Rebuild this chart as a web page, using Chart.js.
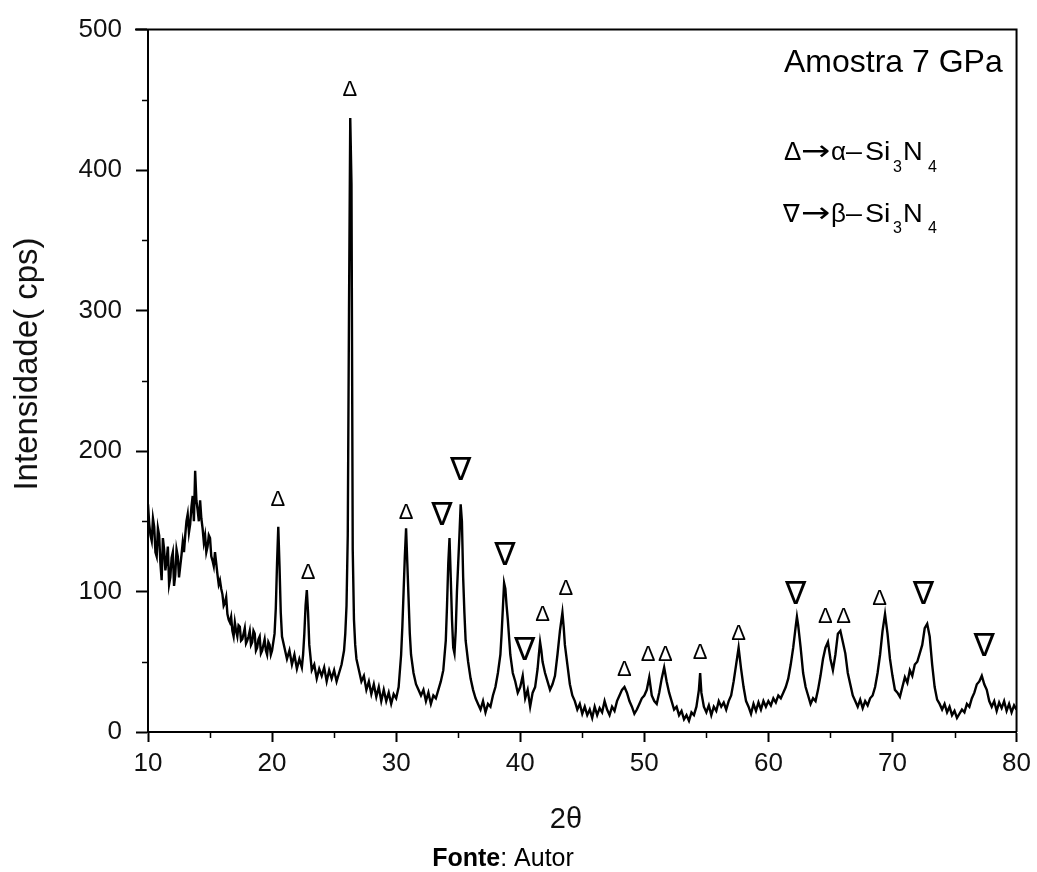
<!DOCTYPE html>
<html>
<head>
    <title>Amostra 7 GPa - DRX</title>
    <script src="https://cdn.jsdelivr.net/npm/chart.js"></script>
    <style>
        body { margin: 0; background: white; }
        #wrap { width: 1037px; height: 872px; }
    </style>
</head>
<body>
    <div id="wrap"><canvas id="xrdChart" width="1037" height="872"></canvas></div>

    <script>
        // 2-theta positions (deg) and intensities (cps)
        const twoTheta = [
            10.0, 10.1, 10.2, 10.3, 10.4, 10.5, 10.6, 10.7, 10.8, 10.9,
            11.0, 11.1, 11.2, 11.3, 11.4, 11.5, 11.6, 11.7, 11.8, 11.9,
            12.0, 12.1, 12.2, 12.3, 12.4, 12.5, 12.6, 12.7, 12.8, 12.9,
            13.0, 13.1, 13.2, 13.3, 13.4, 13.5, 13.6, 13.7, 13.8, 13.9,
            14.0, 14.1, 14.2, 14.3, 14.4, 14.5, 14.6, 14.7, 14.8, 14.9,
            15.0, 15.1, 15.2, 15.3, 15.4, 15.5, 15.6, 15.7, 15.8, 15.9,
            16.0, 16.1, 16.2, 16.3, 16.4, 16.5, 16.6, 16.7, 16.8, 16.9,
            17.0, 17.1, 17.2, 17.3, 17.4, 17.5, 17.6, 17.7, 17.8, 17.9,
            18.0, 18.1, 18.2, 18.3, 18.4, 18.5, 18.6, 18.7, 18.8, 18.9,
            19.0, 19.1, 19.2, 19.3, 19.4, 19.5, 19.6, 19.7, 19.8, 19.9,
            20.0, 20.2, 20.3, 20.4, 20.5, 20.6, 20.7, 20.8, 21.0, 21.2,
            21.4, 21.6, 21.8, 22.0, 22.2, 22.4, 22.5, 22.6, 22.7, 22.8,
            22.9, 23.0, 23.2, 23.4, 23.6, 23.8, 24.0, 24.2, 24.4, 24.6,
            24.8, 25.0, 25.2, 25.4, 25.6, 25.8, 25.9, 26.0, 26.1, 26.2,
            26.3, 26.4, 26.5, 26.6, 26.7, 26.8, 27.0, 27.2, 27.4, 27.6,
            27.8, 28.0, 28.2, 28.4, 28.6, 28.8, 29.0, 29.2, 29.4, 29.6,
            29.8, 30.0, 30.2, 30.4, 30.5, 30.6, 30.7, 30.8, 30.9, 31.0,
            31.1, 31.2, 31.4, 31.6, 31.8, 32.0, 32.2, 32.4, 32.6, 32.8,
            33.0, 33.2, 33.4, 33.6, 33.8, 34.0, 34.1, 34.2, 34.3, 34.4,
            34.5, 34.6, 34.7, 34.8, 34.9, 35.0, 35.1, 35.2, 35.3, 35.4,
            35.5, 35.6, 35.8, 36.0, 36.2, 36.4, 36.6, 36.8, 37.0, 37.2,
            37.4, 37.6, 37.8, 38.0, 38.2, 38.4, 38.5, 38.6, 38.7, 38.8,
            38.9, 39.0, 39.2, 39.4, 39.6, 39.8, 40.0, 40.2, 40.4, 40.6,
            40.8, 41.0, 41.2, 41.4, 41.5, 41.6, 41.7, 41.8, 42.0, 42.2,
            42.4, 42.6, 42.8, 43.0, 43.2, 43.4, 43.5, 43.6, 43.8, 44.0,
            44.2, 44.4, 44.6, 44.8, 45.0, 45.2, 45.4, 45.6, 45.8, 46.0,
            46.2, 46.4, 46.6, 46.8, 47.0, 47.2, 47.4, 47.6, 47.8, 48.0,
            48.2, 48.4, 48.6, 48.8, 49.0, 49.2, 49.4, 49.6, 49.8, 50.0,
            50.2, 50.4, 50.6, 50.8, 51.0, 51.2, 51.4, 51.6, 51.8, 52.0,
            52.2, 52.4, 52.6, 52.8, 53.0, 53.2, 53.4, 53.6, 53.8, 54.0,
            54.2, 54.4, 54.5, 54.6, 54.8, 55.0, 55.2, 55.4, 55.6, 55.8,
            56.0, 56.2, 56.4, 56.6, 56.8, 57.0, 57.2, 57.4, 57.6, 57.8,
            58.0, 58.2, 58.4, 58.6, 58.8, 59.0, 59.2, 59.4, 59.6, 59.8,
            60.0, 60.2, 60.4, 60.6, 60.8, 61.0, 61.2, 61.4, 61.6, 61.8,
            62.0, 62.2, 62.3, 62.4, 62.6, 62.8, 63.0, 63.2, 63.4, 63.6,
            63.8, 64.0, 64.2, 64.4, 64.6, 64.8, 65.0, 65.2, 65.4, 65.6,
            65.8, 66.0, 66.2, 66.4, 66.6, 66.8, 67.0, 67.2, 67.4, 67.6,
            67.8, 68.0, 68.2, 68.4, 68.6, 68.8, 69.0, 69.2, 69.4, 69.6,
            69.8, 70.0, 70.2, 70.4, 70.6, 70.8, 71.0, 71.2, 71.4, 71.6,
            71.8, 72.0, 72.2, 72.4, 72.6, 72.8, 73.0, 73.2, 73.4, 73.6,
            73.8, 74.0, 74.2, 74.4, 74.6, 74.8, 75.0, 75.2, 75.4, 75.6,
            75.8, 76.0, 76.2, 76.4, 76.6, 76.8, 77.0, 77.2, 77.4, 77.6,
            77.8, 78.0, 78.2, 78.4, 78.6, 78.8, 79.0, 79.2, 79.4, 79.6,
            79.8, 80.0
        ];
        const counts = [
            162, 148, 140, 136, 152, 146, 128, 125, 145, 140,
            120, 108, 138, 130, 115, 122, 132, 105, 110, 124,
            128, 104, 112, 130, 125, 110, 118, 126, 135, 128,
            140, 150, 155, 142, 148, 160, 168, 150, 186, 165,
            158, 150, 165, 152, 145, 135, 140, 128, 132, 140,
            138, 125, 122, 118, 128, 120, 112, 105, 108, 102,
            98, 90, 92, 96, 84, 80, 78, 82, 72, 68,
            78, 72, 68, 76, 75, 65, 66, 70, 74, 63,
            65, 68, 72, 62, 64, 72, 70, 58, 60, 66,
            68, 56, 58, 62, 66, 58, 55, 64, 62, 55,
            58, 70, 88, 120, 146, 118, 85, 68, 60, 52,
            58, 48, 55, 45, 52, 46, 55, 70, 90, 101,
            85, 62, 44, 48, 38, 45, 40, 46, 36, 44,
            38, 44, 36, 42, 48, 58, 70, 90, 140, 300,
            437, 390, 130, 80, 62, 52, 44, 36, 40, 30,
            36, 27, 34, 25, 32, 22, 30, 22, 28, 20,
            27, 24, 32, 55, 75, 100, 125, 145, 120, 95,
            70, 55, 42, 34, 30, 26, 30, 22, 28, 20,
            26, 24, 30, 36, 44, 65, 90, 120, 138, 110,
            80, 60, 56, 72, 100, 120, 140, 162, 150, 110,
            85, 65, 50, 38, 30, 24, 20, 16, 22, 14,
            20, 18, 26, 32, 42, 55, 70, 88, 106, 102,
            90, 80, 55, 42, 36, 28, 32, 40, 24, 30,
            18, 28, 32, 45, 55, 64, 58, 50, 42, 36,
            30, 34, 40, 55, 72, 85, 75, 62, 48, 34,
            26, 22, 16, 20, 13, 18, 12, 16, 10, 18,
            12, 17, 14, 22, 16, 12, 18, 15, 22, 26,
            30, 32, 28, 22, 18, 13, 16, 20, 24, 26,
            30, 39, 26, 22, 20, 28, 38, 46, 36, 28,
            22, 16, 18, 12, 15, 9, 12, 8, 14, 12,
            18, 30, 42, 28, 18, 14, 19, 12, 18, 15,
            22, 18, 21, 16, 22, 26, 36, 48, 60, 45,
            32, 22, 18, 13, 20, 15, 21, 16, 22, 18,
            22, 19, 24, 21, 26, 24, 28, 32, 38, 48,
            60, 75, 82, 76, 60, 42, 32, 26, 20, 24,
            22, 30, 40, 52, 60, 64, 52, 44, 55, 70,
            72, 64, 56, 42, 34, 26, 22, 18, 23, 17,
            22, 19, 24, 26, 32, 42, 55, 72, 84, 70,
            52, 40, 30, 28, 25, 32, 39, 35, 44, 40,
            48, 50, 56, 62, 74, 77, 68, 48, 32, 23,
            20, 16, 20, 14, 18, 12, 15, 10, 13, 16,
            14, 20, 18, 24, 28, 34, 36, 40, 34, 30,
            22, 18, 22, 15, 21, 17, 22, 15, 20, 14,
            19, 16
        ];

        // phase markers: a = alpha-Si3N4 (Δ), b = beta-Si3N4 (∇)
        const markTheta = [20.47, 22.9, 26.27, 30.8, 33.7, 35.2, 38.76, 40.37, 41.8, 43.67, 48.4,
                           50.3, 51.7, 54.5, 57.6, 62.2, 64.6, 66.06, 68.97, 72.5, 77.4];
        const markLevel = [165, 113, 457, 156, 153, 185, 125, 57, 83, 102, 44,
                           55, 55, 56, 70, 97, 82, 82, 95, 97, 60];
        const markPhase = ['a', 'a', 'a', 'a', 'b', 'b', 'b', 'b', 'a', 'a', 'a',
                           'a', 'a', 'a', 'a', 'b', 'a', 'a', 'a', 'b', 'b'];

        const yMinorTicks = [50, 150, 250, 350, 450];
        const xMinorTicks = [15, 25, 35, 45, 55, 65, 75];

        const FONT = "'Liberation Sans', Arial, sans-serif";
        const SYM = "'DejaVu Sans', sans-serif";

        // one legend row: [text, x, baseline shift, font, horizontal stretch]
        function drawRow(ctx, y, parts) {
            parts.forEach(p => {
                ctx.save();
                ctx.font = p[3];
                ctx.translate(p[1], y + p[2]);
                ctx.scale(p[4] || 1, 1);
                ctx.fillText(p[0], 0, 0);
                ctx.restore();
            });
        }

        const decor = {
            id: 'decor',
            afterDraw(chart) {
                const { ctx, chartArea: a, scales: { x, y } } = chart;
                ctx.save();
                ctx.strokeStyle = '#000';
                ctx.lineWidth = 2;
                ctx.beginPath();
                ctx.moveTo(a.left - 13, a.top);
                ctx.lineTo(a.right, a.top);
                ctx.lineTo(a.right, a.bottom);
                ctx.stroke();

                // short minor ticks
                ctx.lineWidth = 1.5;
                ctx.beginPath();
                yMinorTicks.forEach(v => {
                    const py = Math.round(y.getPixelForValue(v)) + 0.5;
                    ctx.moveTo(a.left - 6, py);
                    ctx.lineTo(a.left, py);
                });
                xMinorTicks.forEach(v => {
                    const px = Math.round(x.getPixelForValue(v)) + 0.5;
                    ctx.moveTo(px, a.bottom);
                    ctx.lineTo(px, a.bottom + 6);
                });
                ctx.stroke();

                // peak markers
                ctx.fillStyle = '#000';
                ctx.textAlign = 'center';
                ctx.textBaseline = 'middle';
                markTheta.forEach((t, i) => {
                    const alpha = markPhase[i] === 'a';
                    ctx.font = alpha ? '22px ' + FONT : '32px ' + SYM;
                    ctx.fillText(alpha ? 'Δ' : '∇', x.getPixelForValue(t), y.getPixelForValue(markLevel[i]));
                });

                // axis titles
                ctx.font = '29px ' + FONT;
                ctx.fillStyle = '#111';
                ctx.fillText('2θ', 566, 820);
                ctx.save();
                ctx.translate(28, 364);
                ctx.rotate(-Math.PI / 2);
                ctx.font = '33px ' + FONT;
                ctx.fillText('Intensidade( cps)', 0, 0);
                ctx.restore();

                // sample name and legend
                ctx.fillStyle = '#000';
                ctx.textAlign = 'left';
                ctx.textBaseline = 'alphabetic';
                ctx.font = '32px ' + FONT;
                ctx.fillText('Amostra 7 GPa', 784, 72);
                const big = '26px ' + FONT, sub = '16px ' + FONT, arrow = '28px ' + SYM;
                drawRow(ctx, 160, [['Δ', 784, 0, big], ['→', 801, 0, arrow, 1.25], ['α', 831, 0, big],
                    ['–', 846, 0, big, 1.1], ['Si', 865, 0, big, 1.1], ['3', 893, 12, sub], ['N', 903, 0, big, 1.05], ['4', 928, 12, sub]]);
                drawRow(ctx, 222, [['∇', 783, 0, '25px ' + SYM], ['→', 801, 0, arrow, 1.25], ['β', 831, 0, big],
                    ['–', 846, 0, big, 1.1], ['Si', 865, 0, big, 1.1], ['3', 893, 11, sub], ['N', 903, 0, big, 1.05], ['4', 928, 11, sub]]);

                // source line
                ctx.font = 'bold 25px ' + FONT;
                const w1 = ctx.measureText('Fonte').width;
                ctx.font = '25px ' + FONT;
                const w2 = ctx.measureText(': Autor').width;
                const sx = 503 - (w1 + w2) / 2;
                ctx.font = 'bold 25px ' + FONT;
                ctx.fillText('Fonte', sx, 866);
                ctx.font = '25px ' + FONT;
                ctx.fillText(': Autor', sx + w1, 866);
                ctx.restore();
            }
        };

        const ctx = document.getElementById('xrdChart').getContext('2d');
        const chart = new Chart(ctx, {
            type: 'line',
            data: {
                datasets: [{
                    label: 'Amostra 7 GPa',
                    data: twoTheta.map((t, i) => ({ x: t, y: counts[i] })),
                    borderColor: '#000',
                    borderWidth: 2.4,
                    pointRadius: 0,
                    tension: 0
                }]
            },
            options: {
                responsive: false,
                animation: false,
                layout: { padding: { top: 28, right: 20, left: 0, bottom: 0 } },
                plugins: { legend: { display: false }, tooltip: { enabled: false } },
                scales: {
                    x: {
                        type: 'linear',
                        min: 10,
                        max: 80,
                        afterFit(s) { s.height = 140; },
                        ticks: {
                            stepSize: 5,
                            autoSkip: false,
                            maxRotation: 0,
                            padding: 6,
                            color: '#111',
                            font: { family: FONT, size: 26 },
                            callback: v => (v % 10 === 0 ? v : '')
                        },
                        grid: {
                            drawOnChartArea: false,
                            tickLength: 10,
                            tickWidth: 2,
                            tickColor: c => (c.tick && c.tick.value % 10 === 0 ? '#000' : 'rgba(0,0,0,0)')
                        },
                        border: { color: '#000', width: 2 }
                    },
                    y: {
                        min: 0,
                        max: 500,
                        afterFit(s) { s.width = 148; },
                        ticks: {
                            stepSize: 50,
                            padding: 14,
                            color: '#111',
                            font: { family: FONT, size: 26 },
                            callback: v => (v % 100 === 0 ? v : '')
                        },
                        grid: {
                            drawOnChartArea: false,
                            tickLength: 12,
                            tickWidth: 2,
                            tickColor: c => (c.tick && c.tick.value % 100 === 0 ? '#000' : 'rgba(0,0,0,0)')
                        },
                        border: { color: '#000', width: 2 }
                    }
                }
            },
            plugins: [decor]
        });
    </script>
</body>
</html>
